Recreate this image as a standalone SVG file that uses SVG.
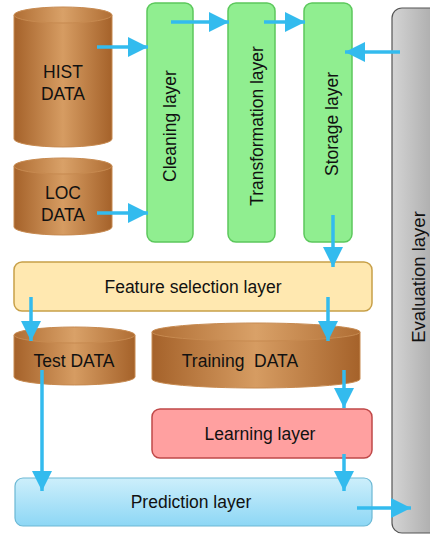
<svg xmlns="http://www.w3.org/2000/svg" width="430" height="535" viewBox="0 0 430 535">
<defs>
<linearGradient id="brown" x1="0" y1="0" x2="1" y2="0">
<stop offset="0" stop-color="#A5622A"/>
<stop offset="0.5" stop-color="#D69C62"/>
<stop offset="1" stop-color="#A5622A"/>
</linearGradient>
<linearGradient id="brownTop" x1="0" y1="0" x2="1" y2="0">
<stop offset="0" stop-color="#B06E34"/>
<stop offset="0.5" stop-color="#D9A168"/>
<stop offset="1" stop-color="#B06E34"/>
</linearGradient>
<linearGradient id="grey" x1="0" y1="0" x2="1" y2="0">
<stop offset="0" stop-color="#D4D4D4"/>
<stop offset="1" stop-color="#9C9C9C"/>
</linearGradient>
<linearGradient id="blue" x1="0" y1="0" x2="0" y2="1">
<stop offset="0" stop-color="#CDEFFB"/>
<stop offset="1" stop-color="#8DD7F5"/>
</linearGradient>
<marker id="ah" markerUnits="userSpaceOnUse" markerWidth="20" markerHeight="20" refX="20" refY="10" orient="auto" viewBox="0 0 20 20">
<path d="M0,0 L20,10 L0,20 Z" fill="#33BBEE"/>
</marker>
<style>
text{font-family:"Liberation Sans",Arial,sans-serif;font-size:17.5px;fill:#111;text-anchor:middle;dominant-baseline:central}
.cyl{fill:url(#brown);stroke:#C78A50;stroke-width:1}
.cyltop{fill:url(#brownTop);stroke:#C78A50;stroke-width:1}
.green{fill:#90EE90;stroke:#5CC85C;stroke-width:1.5}
.conn line{stroke:#33BBEE;stroke-width:3.5;marker-end:url(#ah)}
</style>
</defs>

<g id="evaluation">
<rect x="392" y="8" width="60" height="525" rx="10" fill="url(#grey)" stroke="#555" stroke-width="1.2"/>
<text transform="translate(418,277) rotate(-90)" style="font-size:18.5px">Evaluation layer</text>
</g>

<g id="hist">
<path class="cyl" d="M14,15 V139 A49,8 0 0 0 112,139 V15 Z"/>
<ellipse class="cyltop" cx="63" cy="15" rx="49" ry="8"/>
<text x="63" y="72">HIST</text>
<text x="63" y="94">DATA</text>
</g>

<g id="loc">
<path class="cyl" d="M14,166 V227 A49,8 0 0 0 112,227 V166 Z"/>
<ellipse class="cyltop" cx="63" cy="166" rx="49" ry="8"/>
<text x="63" y="193">LOC</text>
<text x="63" y="215">DATA</text>
</g>

<g id="cleaning">
<rect class="green" x="147" y="3" width="46" height="239" rx="8"/>
<text transform="translate(170,126) rotate(-90)">Cleaning layer</text>
</g>

<g id="transformation">
<rect class="green" x="228" y="3" width="47" height="239" rx="8"/>
<text transform="translate(257,126) rotate(-90)">Transformation layer</text>
</g>

<g id="storage">
<rect class="green" x="304" y="3" width="48" height="239" rx="8"/>
<text transform="translate(332,124) rotate(-90)">Storage layer</text>
</g>

<g id="feature">
<rect x="14" y="262" width="358" height="49" rx="8" fill="#FFE8B0" stroke="#C8A048" stroke-width="1.5"/>
<text x="193" y="287">Feature selection layer</text>
</g>

<g id="test">
<path class="cyl" d="M14,335 V377 A60.5,8 0 0 0 135,377 V335 Z"/>
<ellipse class="cyltop" cx="74.5" cy="335" rx="60.5" ry="8"/>
<text x="74" y="361">Test DATA</text>
</g>

<g id="training">
<path class="cyl" d="M152,332 V379 A104,9 0 0 0 360,379 V332 Z"/>
<ellipse class="cyltop" cx="256" cy="332" rx="104" ry="9"/>
<text x="240" y="361" xml:space="preserve">Training  DATA</text>
</g>

<g id="learning">
<rect x="152" y="409" width="220" height="49" rx="8" fill="#FFA0A0" stroke="#C04848" stroke-width="1.5"/>
<text x="260" y="434">Learning layer</text>
</g>

<g id="prediction">
<rect x="15" y="478" width="357" height="48" rx="8" fill="url(#blue)" stroke="#6CB8D4" stroke-width="1.2"/>
<text x="191" y="502">Prediction layer</text>
</g>

<g id="connectors" class="conn">
<line x1="97" y1="47" x2="148" y2="47"/>
<line x1="97" y1="213" x2="148" y2="213"/>
<line x1="171" y1="22" x2="229" y2="22"/>
<line x1="264" y1="22" x2="305" y2="22"/>
<line x1="400" y1="52" x2="345" y2="52"/>
<line x1="333" y1="215" x2="333" y2="267"/>
<line x1="31" y1="297" x2="31" y2="341"/>
<line x1="328" y1="297" x2="328" y2="341"/>
<line x1="344" y1="370" x2="344" y2="408"/>
<line x1="42" y1="370" x2="42" y2="491"/>
<line x1="344" y1="454" x2="344" y2="491"/>
<line x1="357" y1="508" x2="411" y2="508"/>
</g>
</svg>
